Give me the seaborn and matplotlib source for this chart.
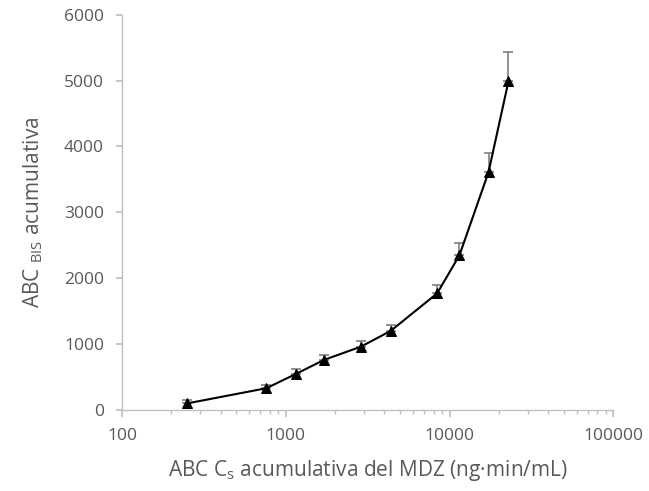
import numpy as np
import pandas as pd
import seaborn as sns
from matplotlib import pyplot as plt
from matplotlib.ticker import LogLocator, FixedLocator, NullFormatter

# 数据
abc_cs = [250, 760, 1160, 1710, 2870, 4370, 8400, 11500, 17300, 22900]
abc_bis = [100, 330, 550, 760, 960, 1200, 1770, 2350, 3610, 4990]
err_up = [50, 55, 70, 70, 80, 85, 130, 180, 290, 450]

sns.set_theme(style="white")
plt.rcParams['font.family'] = ['Open Sans', 'DejaVu Sans']
plt.rcParams['mathtext.fontset'] = 'custom'
plt.rcParams['mathtext.rm'] = 'Open Sans'

gray_text = '#595959'
gray_axis = '#bfbfbf'

df = pd.DataFrame({"cs": abc_cs, "bis": abc_bis})

fig = plt.figure(figsize=(6.49, 4.91), dpi=100)
ax = fig.add_axes([0.188, 0.165, 0.757, 0.805])

# 误差线（只向上）
ax.errorbar(abc_cs, abc_bis, yerr=[np.zeros(len(err_up)), err_up], fmt='none',
            ecolor='#7f7f7f', elinewidth=1.2, capsize=3.6, capthick=1.2, zorder=2)

sns.lineplot(data=df, x="cs", y="bis", ax=ax, color='black', linewidth=1.5,
             marker='^', markersize=7, markeredgecolor='black', zorder=3)

ax.set_xscale('log')
ax.set_xlim(100, 100000)
ax.set_ylim(0, 6000)
ax.set_yticks(range(0, 6001, 1000))
ax.xaxis.set_major_locator(FixedLocator([100, 1000, 10000, 100000]))
ax.set_xticklabels(['100', '1000', '10000', '100000'])
ax.xaxis.set_minor_locator(LogLocator(base=10, subs=np.arange(2, 10)))
ax.xaxis.set_minor_formatter(NullFormatter())

for side in ['top', 'right']:
    ax.spines[side].set_visible(False)
for side in ['left', 'bottom']:
    ax.spines[side].set_color(gray_axis)
    ax.spines[side].set_linewidth(1.0)

ax.tick_params(axis='y', which='major', direction='out', length=4, color=gray_axis,
               labelsize=12.5, labelcolor=gray_text, left=True, pad=9)
ax.tick_params(axis='x', which='major', direction='out', length=4.7, color=gray_axis,
               labelsize=12.5, labelcolor=gray_text, bottom=True, pad=8)
ax.tick_params(axis='x', which='minor', direction='out', length=3, color=gray_axis, bottom=True)

ax.set_xlabel(r'ABC C$_\mathregular{s}$ acumulativa del MDZ (ng·min/mL)', fontsize=15,
              color=gray_text, labelpad=10)
ax.set_ylabel(r'ABC $_\mathregular{BIS}$ acumulativa', fontsize=15, color=gray_text, labelpad=14)
ax.grid(False)

plt.savefig("out.png", dpi=100)
